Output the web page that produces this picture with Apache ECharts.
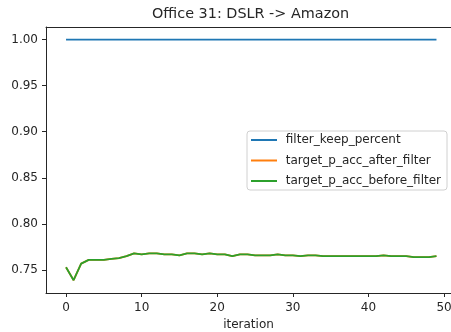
<!DOCTYPE html>
<html>
<head>
<meta charset="utf-8">
<script src="https://cdn.jsdelivr.net/npm/echarts@6/dist/echarts.min.js"></script>
<style>html,body{margin:0;padding:0;background:#fff;}#c{width:451px;height:332px;}</style>
</head>
<body>
<div id="c"></div>
<script>
const iterations = Array.from({length: 50}, (_, i) => i);
const filterKeepPercent = [1,1,1,1,1,1,1,1,1,1,1,1,1,1,1,1,1,1,1,1,1,1,1,1,1,1,1,1,1,1,1,1,1,1,1,1,1,1,1,1,1,1,1,1,1,1,1,1,1,1];
const accAfterFilter = [0.753,0.739,0.757,0.761,0.761,0.761,0.762,0.763,0.765,0.768,0.767,0.768,0.768,0.767,0.767,0.766,0.768,0.768,0.767,0.768,0.767,0.767,0.765,0.767,0.767,0.766,0.766,0.766,0.767,0.766,0.766,0.765,0.766,0.766,0.765,0.765,0.765,0.765,0.765,0.765,0.765,0.765,0.766,0.765,0.765,0.765,0.764,0.764,0.764,0.765];
const accBeforeFilter = accAfterFilter.slice();
const xTicks = [0,10,20,30,40,50];
const yTicks = [0.75,0.80,0.85,0.90,0.95,1.00];

const pair = arr => arr.map((v, i) => [iterations[i], v]);
const font = 'DejaVu Sans';
const ink = '#262626';
const xMin = -2.65, pxPerUnit = 7.56, gridW = 405;
const chart = echarts.init(document.getElementById('c'));
chart.setOption({
  animation: false,
  title: {text: 'Office 31: DSLR -> Amazon', left: 152, top: 7, padding: 0,
    textStyle: {fontFamily: font, fontSize: 14.4, fontWeight: 'normal', color: ink}},
  grid: {left: 46, top: 27, width: gridW, height: 266, show: false, containLabel: false, outerBoundsMode: 'none'},
  legend: {
    orient: 'vertical', left: 247, top: 131, padding: [3, 6, 3, 4],
    borderColor: '#d0d0d0', borderWidth: 1, borderRadius: 3, backgroundColor: 'rgba(255,255,255,0.8)',
    icon: 'rect', itemWidth: 26, itemHeight: 2, itemGap: 8.5,
    formatter: n => ' ' + n,
    textStyle: {fontFamily: font, fontSize: 12, color: ink, lineHeight: 12},
    data: ['filter_keep_percent', 'target_p_acc_after_filter', 'target_p_acc_before_filter']
  },
  xAxis: [{
    type: 'value', min: xMin, max: xMin + gridW / pxPerUnit,
    name: 'iteration', nameLocation: 'middle', nameGap: 26,
    nameTextStyle: {fontFamily: font, fontSize: 12, color: ink},
    axisLine: {show: true, onZero: false, lineStyle: {color: ink}},
    axisTick: {show: true, inside: false, length: 4, customValues: xTicks, lineStyle: {color: ink}},
    axisLabel: {customValues: xTicks, margin: 9, fontFamily: font, fontSize: 12, color: ink},
    splitLine: {show: false}
  }, {
    type: 'value', position: 'top', min: xMin, max: xMin + gridW / pxPerUnit,
    axisLine: {show: true, onZero: false, lineStyle: {color: ink}},
    axisTick: {show: false}, axisLabel: {show: false}, splitLine: {show: false}
  }],
  yAxis: {
    type: 'value', min: 0.7251, max: 1.0136,
    axisLine: {show: true, onZero: false, lineStyle: {color: ink}},
    axisTick: {show: true, inside: false, length: 4, customValues: yTicks, lineStyle: {color: ink}},
    axisLabel: {customValues: yTicks, margin: 8, fontFamily: font, fontSize: 12, color: ink,
      formatter: v => v.toFixed(2)},
    splitLine: {show: false}
  },
  series: [
    {name: 'filter_keep_percent', type: 'line', data: pair(filterKeepPercent), showSymbol: false,
      color: '#1f77b4', lineStyle: {width: 1.8}},
    {name: 'target_p_acc_after_filter', type: 'line', data: pair(accAfterFilter), showSymbol: false,
      color: '#ff7f0e', lineStyle: {width: 1.8}},
    {name: 'target_p_acc_before_filter', type: 'line', data: pair(accBeforeFilter), showSymbol: false,
      color: '#2ca02c', lineStyle: {width: 1.8}}
  ]
});
</script>
</body>
</html>
